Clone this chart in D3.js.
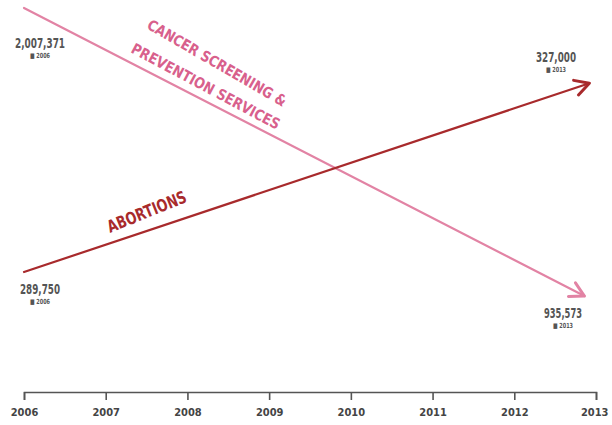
<!DOCTYPE html>
<html>
<head>
<meta charset="utf-8">
<script src="https://cdn.jsdelivr.net/npm/d3@7"></script>
<style>
  body { margin: 0; background: #fff; }
  text { font-family: "Liberation Sans Narrow", "DejaVu Sans Condensed", sans-serif; font-weight: bold; }
</style>
</head>
<body>
<script>
const YEARS = [2006, 2007, 2008, 2009, 2010, 2011, 2012, 2013];
const ENDPOINT_YEARS = [2006, 2013];
const ABORTIONS = [289750, 327000];
const CANCER = [2007371, 935573];
const ABORTION_LABELS = ["289,750", "327,000"];
const CANCER_LABELS = ["2,007,371", "935,573"];

const width = 612;
const height = 425;

const pink = "#e283a4";
const pinkText = "#d8608c";
const red = "#a82a2c";

// x scale for years
const x = d3.scaleLinear()
  .domain([2006, 2013])
  .range([24, 596]);

// each series gets its own y scale (as in the original)
const yAbort = d3.scaleLinear()
  .domain([289750, 327000])
  .range([272, 81]);

const yCancer = d3.scaleLinear()
  .domain([935573, 2007371])
  .range([302, 8]);

const svg = d3.select("body").append("svg")
  .attr("width", width)
  .attr("height", height);

// axis
const axis = d3.axisBottom(x)
  .tickValues(YEARS)
  .tickFormat(d3.format("d"))
  .tickSize(8)
  .tickSizeOuter(8);

const gAxis = svg.append("g")
  .attr("transform", "translate(0,392)")
  .call(axis);
gAxis.select(".domain").attr("stroke", "#555").attr("stroke-width", 1.6);
gAxis.selectAll(".tick line").attr("stroke", "#555").attr("stroke-width", 1.6);
gAxis.selectAll(".tick text")
  .attr("fill", "#444")
  .attr("y", 16)
  .style("font-size", "11px")
  .style("font-family", "'Liberation Sans Narrow', 'DejaVu Sans Condensed', sans-serif")
  .style("font-weight", "bold");
// keep the last label inside the page
gAxis.selectAll(".tick text").filter(function (d) { return d === 2013; })
  .attr("text-anchor", "end")
  .attr("x", 12);

// draw a line with an open arrowhead, shortened at the end
function arrowLine(values, y, color, shorten) {
  let x0 = x(ENDPOINT_YEARS[0]), y0 = y(values[0]);
  let x1 = x(ENDPOINT_YEARS[1]), y1 = y(values[1]);
  let dx = x1 - x0, dy = y1 - y0;
  let len = Math.sqrt(dx * dx + dy * dy);
  let ux = dx / len, uy = dy / len;
  let tx = x1 - ux * shorten, ty = y1 - uy * shorten;
  svg.append("line")
    .attr("x1", x0).attr("y1", y0)
    .attr("x2", tx).attr("y2", ty)
    .attr("stroke", color)
    .attr("stroke-width", 2.2)
    .attr("stroke-linecap", "round");
  // arrowhead
  let a = 16, ang = 0.5;
  let pts = [-ang, ang].map(function (s) {
    let c = Math.cos(s), sn = Math.sin(s);
    let bx = -(ux * c - uy * sn), by = -(ux * sn + uy * c);
    return [tx + bx * a, ty + by * a];
  });
  svg.append("path")
    .attr("d", "M" + pts[0] + "L" + tx + "," + ty + "L" + pts[1])
    .attr("fill", "none")
    .attr("stroke", color)
    .attr("stroke-width", 3)
    .attr("stroke-linecap", "round")
    .attr("stroke-linejoin", "round");
}

arrowLine(CANCER, yCancer, pink, 13);
arrowLine(ABORTIONS, yAbort, red, 7);

// value labels
function valueLabel(cx, cy, value, year, w) {
  svg.append("text")
    .attr("x", cx).attr("y", cy)
    .attr("text-anchor", "middle")
    .attr("fill", "#555")
    .attr("textLength", w)
    .attr("lengthAdjust", "spacingAndGlyphs")
    .style("font-size", "14px")
    .text(value);
  svg.append("text")
    .attr("x", cx).attr("y", cy + 10)
    .attr("text-anchor", "middle")
    .attr("fill", "#555")
    .attr("textLength", 20)
    .attr("lengthAdjust", "spacingAndGlyphs")
    .style("font-size", "7px")
    .text("\u25A0 " + year);
}

valueLabel(40, 48, CANCER_LABELS[0], ENDPOINT_YEARS[0], 50);
valueLabel(40, 294, ABORTION_LABELS[0], ENDPOINT_YEARS[0], 40);
valueLabel(556, 62, ABORTION_LABELS[1], ENDPOINT_YEARS[1], 40);
valueLabel(563, 318, CANCER_LABELS[1], ENDPOINT_YEARS[1], 38);

// series labels
svg.append("text")
  .attr("transform", "translate(146,28) rotate(30)")
  .attr("fill", pinkText)
  .attr("textLength", 158)
  .attr("lengthAdjust", "spacingAndGlyphs")
  .style("font-size", "15px")
  .text("CANCER SCREENING &");

svg.append("text")
  .attr("transform", "translate(130,52) rotate(28)")
  .attr("fill", pinkText)
  .attr("textLength", 166)
  .attr("lengthAdjust", "spacingAndGlyphs")
  .style("font-size", "15px")
  .text("PREVENTION SERVICES");

svg.append("text")
  .attr("transform", "translate(110,233) rotate(-22)")
  .attr("fill", red)
  .attr("textLength", 84)
  .attr("lengthAdjust", "spacingAndGlyphs")
  .style("font-size", "17px")
  .text("ABORTIONS");
</script>
</body>
</html>
